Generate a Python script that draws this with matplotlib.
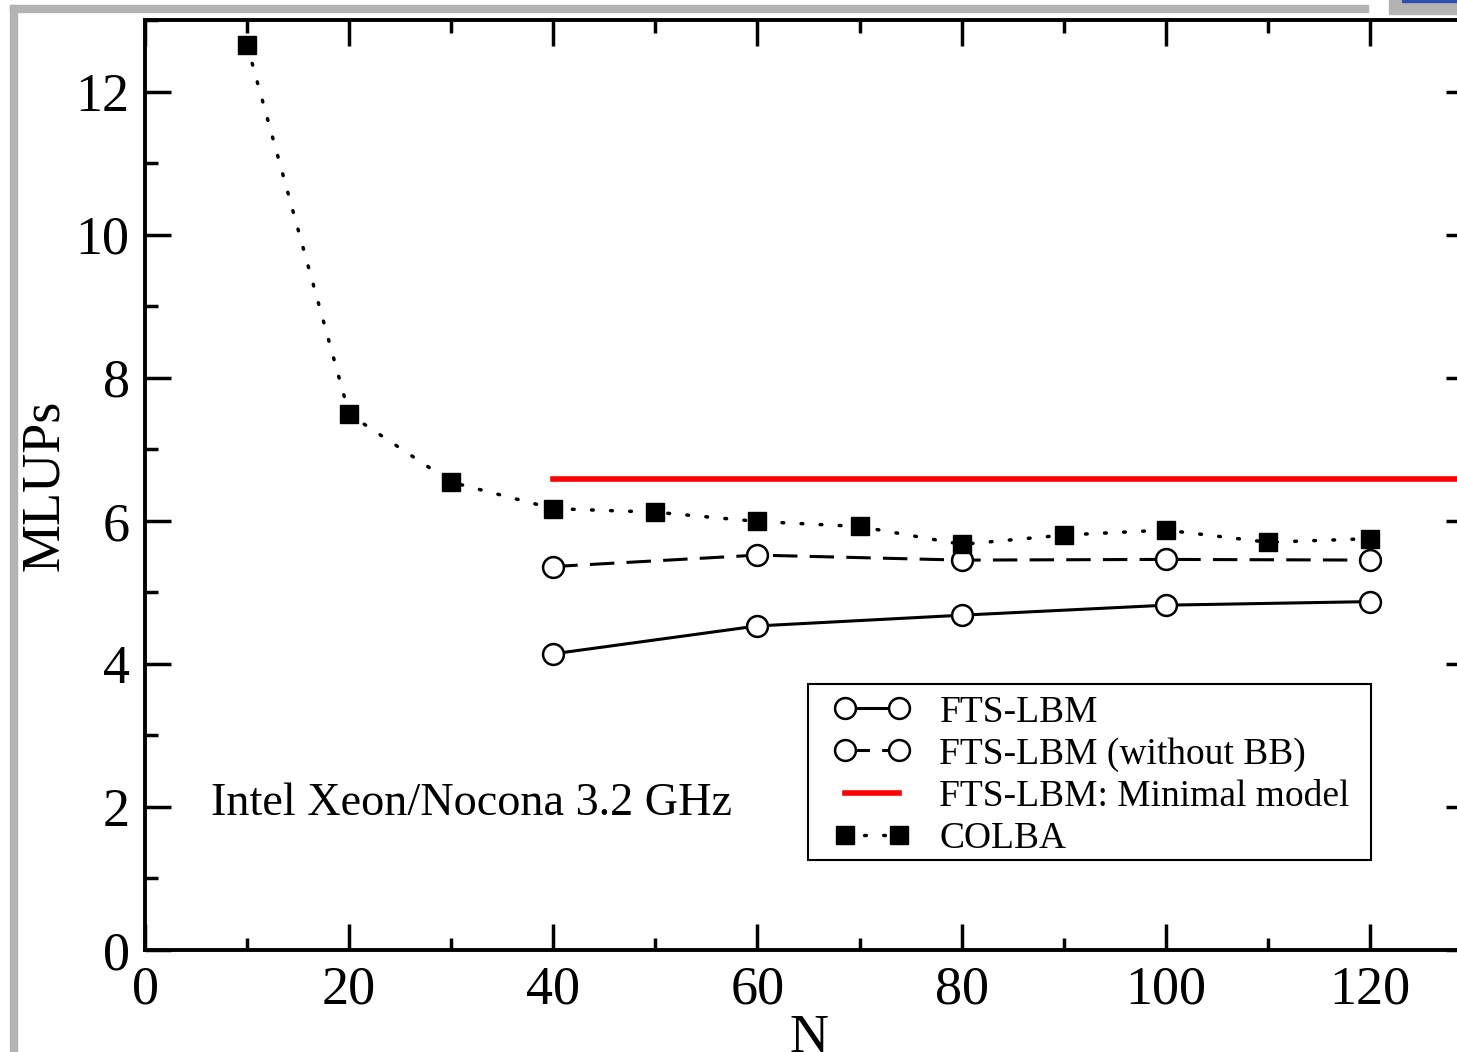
import matplotlib
matplotlib.use("Agg")
import matplotlib.pyplot as plt
from matplotlib.patches import Rectangle
from matplotlib.ticker import MultipleLocator

plt.rcParams['font.family'] = ['Liberation Serif', 'DejaVu Serif']

# Data
colba_n = [10, 20, 30, 40, 50, 60, 70, 80, 90, 100, 110, 120]
colba_v = [12.65, 7.49, 6.54, 6.17, 6.12, 5.99, 5.92, 5.67, 5.80, 5.87, 5.70, 5.75]
fts_n = [40, 60, 80, 100, 120]
fts_v = [4.14, 4.53, 4.68, 4.82, 4.87]
ftsnobb_n = [40, 60, 80, 100, 120]
ftsnobb_v = [5.36, 5.52, 5.45, 5.46, 5.45]
minimal_n = [40, 130]
minimal_v = [6.59, 6.59]

W, H = 1457, 1052
fig = plt.figure(figsize=(W/100, H/100), dpi=100)

# screenshot frame artifacts
fig.patches.append(Rectangle((10/W, 0), 7/W, 1 - 5/H, transform=fig.transFigure, color='#b3b3b3', zorder=0))
fig.patches.append(Rectangle((10/W, 1 - 12/H), (1368-10)/W, 7/H, transform=fig.transFigure, color='#b3b3b3', zorder=0))
fig.patches.append(Rectangle((1389/W, 1 - 14/H), (W-1389)/W, 14/H, transform=fig.transFigure, color='#b3b3b3', zorder=0))
fig.patches.append(Rectangle((1402/W, 1 - 2/H), (W-1402)/W, 2/H, transform=fig.transFigure, color='#3050b0', zorder=1))

left, right, top, bottom = 145, 1472, 20, 950
ax = fig.add_axes([left/W, 1 - bottom/H, (right-left)/W, (bottom-top)/H])

ax.plot(fts_n, fts_v, '-', color='black', lw=2.2, marker='o', ms=15,
        mfc='white', mec='black', mew=1.8, label='FTS-LBM')
ax.plot(ftsnobb_n, ftsnobb_v, color='black', lw=2.2, ls=(0, (8, 4)), marker='o', ms=15,
        mfc='white', mec='black', mew=1.8, label='FTS-LBM (without BB)')
ax.plot(minimal_n, minimal_v, '-', color='#ff0000', lw=4, label='FTS-LBM: Minimal model')
ax.plot(colba_n, colba_v, color='black', lw=2.5, ls=(0, (0.5, 5)), dash_capstyle='round',
        marker='s', ms=13, mfc='black', mec='black', label='COLBA')

ax.set_xlim(0, 130)
ax.set_ylim(0, 13)
ax.xaxis.set_major_locator(MultipleLocator(20))
ax.xaxis.set_minor_locator(MultipleLocator(10))
ax.yaxis.set_major_locator(MultipleLocator(2))
ax.yaxis.set_minor_locator(MultipleLocator(1))
ax.tick_params(which='both', direction='in', top=True, right=True, width=2.5)
ax.tick_params(which='major', length=19, labelsize=39, pad=11)
ax.tick_params(which='minor', length=9)
for s in ax.spines.values():
    s.set_linewidth(2.8)

ax.set_xlabel('N', fontsize=39, labelpad=-2)
ax.set_ylabel('MLUPs', fontsize=39, labelpad=4)

ax.text(6.5, 2.05, 'Intel Xeon/Nocona 3.2 GHz', fontsize=33.3, va='center', ha='left')

# legend frame drawn separately for exact padding
frame = Rectangle((808/W, 1 - 860/H), (1371-808)/W, (860-684)/H, transform=fig.transFigure,
                  facecolor='white', edgecolor='black', lw=1.5, zorder=4)
ax.add_patch(frame)
frame.set_clip_on(False)

leg = ax.legend(loc='upper left', bbox_to_anchor=(834/W, 1 - 695/H), bbox_transform=fig.transFigure,
                fontsize=27, frameon=False,
                numpoints=2, handlelength=2.03, handletextpad=0.78, borderpad=0,
                labelspacing=0.2, borderaxespad=0)
leg.set_zorder(5)

fig.savefig('out.png', dpi=100)
